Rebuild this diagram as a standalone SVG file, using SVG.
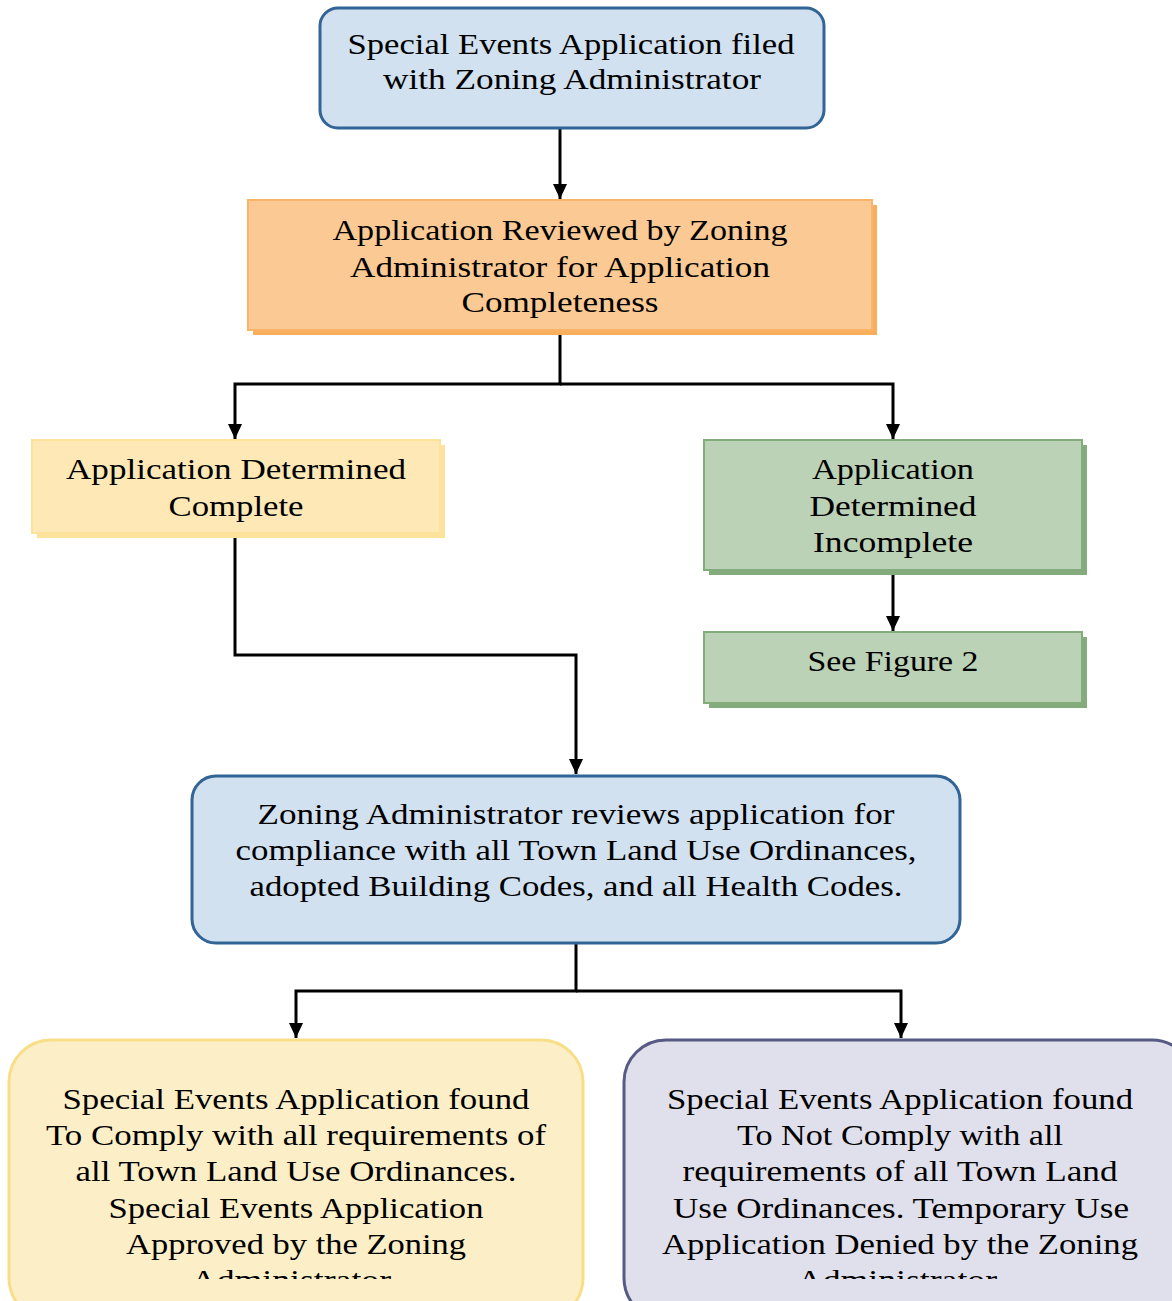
<svg xmlns="http://www.w3.org/2000/svg" width="1172" height="1301" viewBox="0 0 1172 1301">
<style>
text{font-family:"Liberation Serif","DejaVu Serif",serif;font-size:30px;fill:#000;text-anchor:middle}
.conn{fill:none;stroke:#000;stroke-width:3}
</style>
<defs>
<marker id="ah" markerUnits="userSpaceOnUse" markerWidth="16" markerHeight="16" viewBox="0 0 16 16" refX="15" refY="8" orient="auto">
<path d="M0,1 L15,8 L0,15 Z" fill="#000"/>
</marker>
<clipPath id="c7"><rect x="0" y="1040" width="600" height="239"/></clipPath>
<clipPath id="c8"><rect x="610" y="1040" width="562" height="239"/></clipPath>
</defs>
<rect width="1172" height="1301" fill="#fff"/>
<g id="connectors">
<path class="conn" d="M560,128 V199" marker-end="url(#ah)"/>
<path class="conn" d="M560,332 V384 H235 V439" marker-end="url(#ah)"/>
<path class="conn" d="M560,384 H893 V439" marker-end="url(#ah)"/>
<path class="conn" d="M893,572 V631" marker-end="url(#ah)"/>
<path class="conn" d="M235,536 V655 H576 V774" marker-end="url(#ah)"/>
<path class="conn" d="M576,944 V991 H296 V1038" marker-end="url(#ah)"/>
<path class="conn" d="M576,991 H901 V1038" marker-end="url(#ah)"/>
</g>
<g id="n1">
<rect x="320" y="8" width="504" height="120" rx="18" fill="#d1e1f0" stroke="#326496" stroke-width="3"/>
<text x="571" y="54" textLength="447" lengthAdjust="spacingAndGlyphs">Special Events Application filed</text>
<text x="572" y="89" textLength="378" lengthAdjust="spacingAndGlyphs">with Zoning Administrator</text>
</g>
<g id="n2">
<rect x="253" y="205" width="624" height="130" fill="#f9ae5c"/>
<rect x="248" y="200" width="624" height="130" fill="#fbc993" stroke="#f9b467" stroke-width="2"/>
<text x="560" y="240" textLength="455" lengthAdjust="spacingAndGlyphs">Application Reviewed by Zoning</text>
<text x="560" y="277" textLength="420" lengthAdjust="spacingAndGlyphs">Administrator for Application</text>
<text x="560" y="312" textLength="197" lengthAdjust="spacingAndGlyphs">Completeness</text>
</g>
<g id="n3">
<rect x="37" y="445" width="408" height="93" fill="#fde29c"/>
<rect x="32" y="440" width="408" height="93" fill="#fee9b6" stroke="#fde29c" stroke-width="2"/>
<text x="236" y="479" textLength="340" lengthAdjust="spacingAndGlyphs">Application Determined</text>
<text x="236" y="516" textLength="135" lengthAdjust="spacingAndGlyphs">Complete</text>
</g>
<g id="n4">
<rect x="709" y="445" width="378" height="130" fill="#84ab7c"/>
<rect x="704" y="440" width="378" height="130" fill="#bbd2b7" stroke="#84ab7c" stroke-width="2"/>
<text x="893" y="479" textLength="162" lengthAdjust="spacingAndGlyphs">Application</text>
<text x="893" y="516" textLength="167" lengthAdjust="spacingAndGlyphs">Determined</text>
<text x="893" y="552" textLength="160" lengthAdjust="spacingAndGlyphs">Incomplete</text>
</g>
<g id="n5">
<rect x="709" y="637" width="378" height="71" fill="#84ab7c"/>
<rect x="704" y="632" width="378" height="71" fill="#bbd2b7" stroke="#84ab7c" stroke-width="2"/>
<text x="893" y="671" textLength="171" lengthAdjust="spacingAndGlyphs">See Figure 2</text>
</g>
<g id="n6">
<rect x="192" y="776" width="768" height="167" rx="24" fill="#d1e1f0" stroke="#326496" stroke-width="3"/>
<text x="576" y="824" textLength="637" lengthAdjust="spacingAndGlyphs">Zoning Administrator reviews application for</text>
<text x="576" y="860" textLength="681" lengthAdjust="spacingAndGlyphs">compliance with all Town Land Use Ordinances,</text>
<text x="576" y="896" textLength="653" lengthAdjust="spacingAndGlyphs">adopted Building Codes, and all Health Codes.</text>
</g>
<g id="n7">
<rect x="9" y="1040" width="574" height="280" rx="42" fill="#fcefc7" stroke="#f8df87" stroke-width="3"/>
<g clip-path="url(#c7)">
<text x="296" y="1109" textLength="467" lengthAdjust="spacingAndGlyphs">Special Events Application found</text>
<text x="296" y="1145" textLength="500" lengthAdjust="spacingAndGlyphs">To Comply with all requirements of</text>
<text x="296" y="1181" textLength="441" lengthAdjust="spacingAndGlyphs">all Town Land Use Ordinances.</text>
<text x="296" y="1218" textLength="375" lengthAdjust="spacingAndGlyphs">Special Events Application</text>
<text x="296" y="1254" textLength="340" lengthAdjust="spacingAndGlyphs">Approved by the Zoning</text>
<text x="291" y="1290" textLength="200" lengthAdjust="spacingAndGlyphs">Administrator</text>
</g>
</g>
<g id="n8">
<rect x="624" y="1040" width="570" height="280" rx="42" fill="#e0e0ec" stroke="#575a84" stroke-width="3"/>
<g clip-path="url(#c8)">
<text x="900" y="1109" textLength="466" lengthAdjust="spacingAndGlyphs">Special Events Application found</text>
<text x="900" y="1145" textLength="326" lengthAdjust="spacingAndGlyphs">To Not Comply with all</text>
<text x="900" y="1181" textLength="435" lengthAdjust="spacingAndGlyphs">requirements of all Town Land</text>
<text x="901" y="1218" textLength="456" lengthAdjust="spacingAndGlyphs">Use Ordinances. Temporary Use</text>
<text x="900" y="1254" textLength="476" lengthAdjust="spacingAndGlyphs">Application Denied by the Zoning</text>
<text x="897" y="1290" textLength="200" lengthAdjust="spacingAndGlyphs">Administrator</text>
</g>
</g>
</svg>
